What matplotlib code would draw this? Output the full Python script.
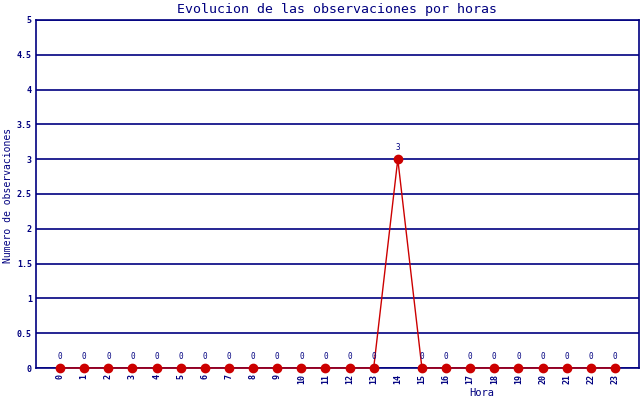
import matplotlib
matplotlib.use("Agg")
import matplotlib.pyplot as plt

horas = list(range(24))
observaciones = [0, 0, 0, 0, 0, 0, 0, 0, 0, 0, 0, 0, 0, 0, 3, 0, 0, 0, 0, 0, 0, 0, 0, 0]
yticks = [0, 0.5, 1, 1.5, 2, 2.5, 3, 3.5, 4, 4.5, 5]
ytick_labels = ["0", "0.5", "1", "1.5", "2", "2.5", "3", "3.5", "4", "4.5", "5"]

navy = "#000080"
red = "#cc0000"
mono = "DejaVu Sans Mono"

fig = plt.figure(figsize=(6.4, 4.0), dpi=100)
ax = fig.add_axes([36/640, 32/400, 603/640, 348/400])

ax.set_xlim(-1, 24)
ax.set_ylim(0, 5)

for y in yticks:
    ax.axhline(y, color=navy, lw=1.2, zorder=1)

ax.plot(horas, observaciones, color=red, lw=1.0, zorder=3, clip_on=False,
        marker="o", markersize=6.0, markerfacecolor=red, markeredgecolor=red)

for h, v in zip(horas, observaciones):
    ax.annotate(str(v), (h, v), xytext=(0, 5), textcoords="offset points",
                ha="center", va="bottom", fontsize=5.5, color=navy, family=mono)

ax.set_yticks(yticks)
ax.set_yticklabels(ytick_labels, fontsize=6, color=navy, family=mono, fontweight="bold")
ax.set_xticks(horas)
ax.set_xticklabels([str(h) for h in horas], rotation=90, fontsize=6, color=navy,
                   family=mono, fontweight="bold")
ax.tick_params(axis="y", length=0, pad=3)
ax.tick_params(axis="x", length=0, pad=4.5)

for s in ["left", "right", "bottom", "top"]:
    ax.spines[s].set_color(navy)
    ax.spines[s].set_linewidth(1.2)

fig.text(337/640, 1 - 9/400, "Evolucion de las observaciones por horas",
         ha="center", va="center", fontsize=9.5, color=navy, family=mono)
fig.text(8/640, 1 - 195/400, "Numero de observaciones", rotation=90,
         ha="center", va="center", fontsize=7, color=navy, family=mono)
fig.text(482/640, 1 - 393/400, "Hora", ha="center", va="center",
         fontsize=7.5, color=navy, family=mono)

fig.savefig("out.png", dpi=100)
